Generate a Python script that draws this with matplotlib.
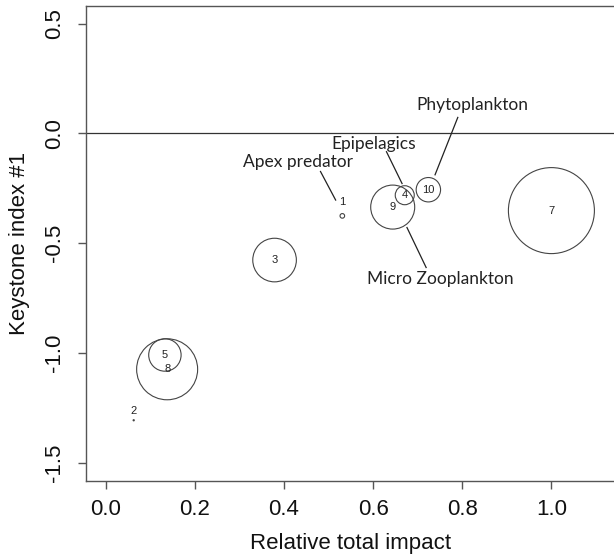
import matplotlib
matplotlib.use("Agg")
import matplotlib.pyplot as plt

# ---- data ----
ids = ["1", "2", "3", "4", "5", "7", "8", "9", "10"]
impact = [0.531, 0.063, 0.379, 0.671, 0.133, 1.000, 0.138, 0.644, 0.724]
keystone = [-0.375, -1.305, -0.576, -0.281, -1.008, -0.351, -1.073, -0.335, -0.256]
bubble_radius = [2.3, 0.6, 21.8, 9.5, 16.2, 43.0, 30.5, 22.0, 12.2]  # px

xticks = [0.0, 0.2, 0.4, 0.6, 0.8, 1.0]
yticks = [-1.5, -1.0, -0.5, 0.0, 0.5]

group_names = ["Phytoplankton", "Epipelagics", "Apex predator", "Micro Zooplankton"]
name_text_xy = [(0.822, 0.131), (0.602, -0.046), (0.431, -0.130), (0.751, -0.663)]
name_line_from = [(0.790, 0.073), (0.630, -0.083), (0.482, -0.173), (0.676, -0.428)]
name_line_to = [(0.739, -0.188), (0.665, -0.228), (0.516, -0.303), (0.719, -0.610)]

DPI = 100
fig = plt.figure(figsize=(6.14, 5.59), dpi=DPI)
W, H = 614, 559
ax = fig.add_axes([86 / W, (H - 480.7) / H, 529.6 / W, 474.7 / H])
ax.set_xlim(-0.044, 1.144)
ax.set_ylim(-1.58, 0.58)

axcol = "#555555"
for side in ["left", "bottom", "top", "right"]:
    ax.spines[side].set_color(axcol)
    ax.spines[side].set_linewidth(1.0)

ax.axhline(0, color="#333333", lw=0.9)

# bubbles
sizes = [(2 * r * 72 / DPI) ** 2 for r in bubble_radius]
ax.scatter(impact, keystone, s=sizes, facecolors="none", edgecolors="#444444",
           linewidths=0.8, zorder=3)

num_font = ["Liberation Sans Narrow", "Liberation Sans", "DejaVu Sans"]
for i, (lab, x, y) in enumerate(zip(ids, impact, keystone)):
    dy = 0
    if lab == "1":
        dy = 10
    elif lab == "2":
        dy = 7
    ax.annotate(lab, (x, y), xytext=(0, dy), textcoords="offset points",
                ha="center", va="center", fontsize=8, family=num_font,
                color="#222222", zorder=4)

for name, txy, p0, p1 in zip(group_names, name_text_xy, name_line_from, name_line_to):
    ax.text(txy[0], txy[1], name, ha="center", va="center", fontsize=12.5,
            family=["Lato", "DejaVu Sans"], color="#222222")
    ax.plot([p0[0], p1[0]], [p0[1], p1[1]], color="#222222", lw=0.9)

ax.set_xticks(xticks)
ax.set_xticklabels([f"{t:.1f}" for t in xticks])
ax.set_yticks(yticks)
ax.set_yticklabels([f"{t:.1f}" for t in yticks], rotation=90, va="center")
ax.tick_params(axis="both", direction="out", length=6, width=1, color=axcol,
               labelsize=16, labelcolor="#111111")
ax.tick_params(axis="x", pad=7)
ax.tick_params(axis="y", pad=9)
for lbl in ax.get_xticklabels() + ax.get_yticklabels():
    lbl.set_family(["Liberation Sans", "DejaVu Sans"])

fig.text(0.5 * (86 + 615.6) / W, 1 - 543.3 / H, "Relative total impact", ha="center",
         va="center", fontsize=16, family=["Liberation Sans", "DejaVu Sans"], color="#111111")
fig.text(20 / W, 1 - 243 / H, "Keystone index #1", ha="center", va="center",
         rotation=90, fontsize=16, family=["Liberation Sans", "DejaVu Sans"], color="#111111")

fig.savefig("out.png", dpi=DPI)
